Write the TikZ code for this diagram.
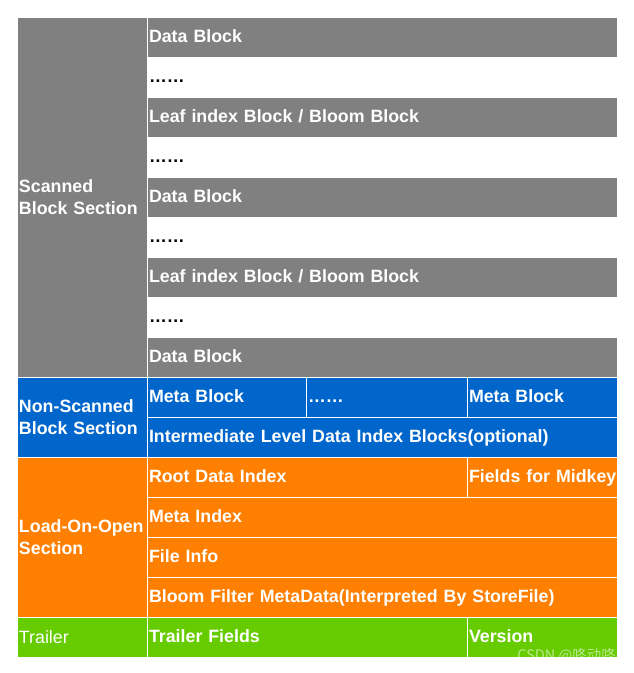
\documentclass[tikz,border=0pt]{standalone}
\usepackage{fontspec}
\setmainfont{Liberation Sans}
\newfontfamily\cjkfont{Noto Sans CJK SC}
\usepackage{tikz}
\usetikzlibrary{positioning}
\definecolor{scangray}{HTML}{808080}
\definecolor{nonscanblue}{HTML}{0066CC}
\definecolor{loadorange}{HTML}{FF8000}
\definecolor{trailergreen}{HTML}{66CC00}
\tikzset{cell/.style={rectangle,draw=white,line width=1pt,anchor=north west,
    inner xsep=2pt,inner ysep=0pt,minimum height=40pt,minimum width=#1,
    text width={#1-4pt},align=left,text height=12.5pt,text depth=1.5pt,
    text=white,font=\bfseries\fontsize{17.8}{22}\selectfont},
  dotrow/.style={cell=#1,draw=none,text=black}}
\tikzstyle{section} = [rectangle, draw=white, line width=1pt, anchor=north west,
                       inner xsep=2pt, inner ysep=0pt, minimum width=130pt,
                       text width=126pt, align=left, text=white,
                       font=\bfseries\fontsize{17.8}{22}\selectfont]

\begin{document}
\begin{tikzpicture}[x=1pt,y=-1pt]
		\useasboundingbox (0,0) rectangle (633,673);
		% section column
		\node[section,fill=scangray,minimum height=360pt] (scan) at (16.5,16.5) {Scanned\\Block Section};
		\node[section,fill=nonscanblue,minimum height=80pt] (nonscan) at (16.5,376.5) {Non-Scanned\\Block Section};
		\node[section,fill=loadorange,minimum height=160pt] (load) at (16.5,456.5) {Load-On-Open\\Section};
		\node[section,fill=trailergreen,minimum height=40pt,font=\mdseries\fontsize{17.8}{22}\selectfont] (trail) at (16.5,616.5) {Trailer};

		% scanned blocks
		\node[cell=470pt,fill=scangray] (data1) at (146.5,16.5) {Data Block};
		\node[dotrow=470pt] (dots1) at (146.5,56.5) {……};
		\node[cell=470pt,fill=scangray] (leaf1) at (146.5,96.5) {Leaf index Block / Bloom Block};
		\node[dotrow=470pt] (dots2) at (146.5,136.5) {……};
		\node[cell=470pt,fill=scangray] (data2) at (146.5,176.5) {Data Block};
		\node[dotrow=470pt] (dots3) at (146.5,216.5) {……};
		\node[cell=470pt,fill=scangray] (leaf2) at (146.5,256.5) {Leaf index Block / Bloom Block};
		\node[dotrow=470pt] (dots4) at (146.5,296.5) {……};
		\node[cell=470pt,fill=scangray] (data3) at (146.5,336.5) {Data Block};

		% non-scanned blocks
		\node[cell=159pt,fill=nonscanblue] (meta1) at (146.5,376.5) {Meta Block};
		\node[cell=161pt,fill=nonscanblue] (metadots) at (305.5,376.5) {……};
		\node[cell=150pt,fill=nonscanblue] (meta2) at (466.5,376.5) {Meta Block};
		\node[cell=470pt,fill=nonscanblue] (interm) at (146.5,416.5) {Intermediate Level Data Index Blocks(optional)};

		% load-on-open
		\node[cell=320pt,fill=loadorange] (root) at (146.5,456.5) {Root Data Index};
		\node[cell=150pt,fill=loadorange] (midkey) at (466.5,456.5) {\mbox{Fields for Midkey}};
		\node[cell=470pt,fill=loadorange] (metaidx) at (146.5,496.5) {Meta Index};
		\node[cell=470pt,fill=loadorange] (fileinfo) at (146.5,536.5) {File Info};
		\node[cell=470pt,fill=loadorange] (bloom) at (146.5,576.5) {Bloom Filter MetaData(Interpreted By StoreFile)};

		% trailer
		\node[cell=320pt,fill=trailergreen] (fields) at (146.5,616.5) {Trailer Fields};
		\node[cell=150pt,fill=trailergreen] (version) at (466.5,616.5) {Version};

		\begin{scope}
			\clip (fields.north west) rectangle (version.south east);
			\node[anchor=base east,inner sep=0pt,text=white,opacity=0.55,font=\cjkfont\fontsize{14.5}{16}\selectfont] (mark) at (616,660) {CSDN @咚动咚};
		\end{scope}
	\end{tikzpicture}
\end{document}
